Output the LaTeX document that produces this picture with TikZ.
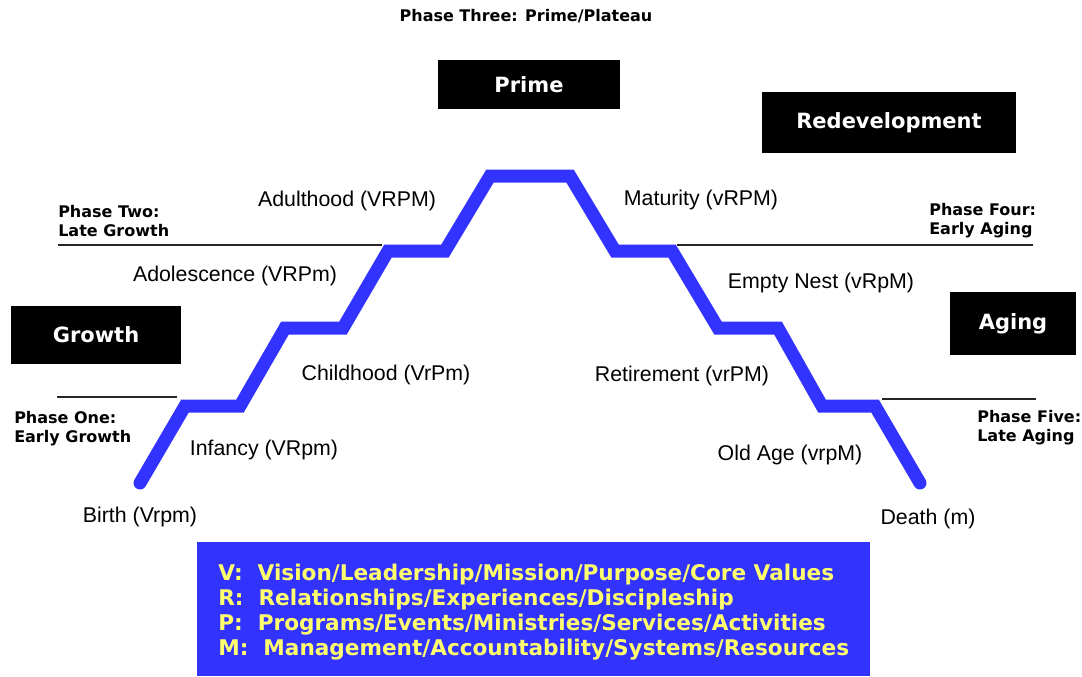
\documentclass[tikz,border=0pt]{standalone}
\usepackage{fontspec}
\setmainfont{Liberation Sans}
\newfontfamily\verdana{DejaVu Sans}
\definecolor{stairblue}{RGB}{51,51,255}
\definecolor{keyyellow}{RGB}{255,255,110}
\tikzset{
  stage/.style={inner sep=0pt, font=\fontsize{16}{19}\selectfont},
  phase/.style={inner sep=0pt, align=left, font=\verdana\bfseries\fontsize{12}{14.25}\selectfont},
  title/.style={fill=black, text=white, inner sep=0pt, font=\verdana\bfseries\fontsize{15.75}{18}\selectfont},
  divider/.style={line width=0.9pt, black!85}
}
\begin{document}
\begin{tikzpicture}[x=0.75pt, y=-0.75pt]
      \useasboundingbox (0,0) rectangle (1082,676);
      \draw
        (529,84.5) node[title, minimum width=136.5pt, minimum height=36.75pt] (prime){Prime}
        (889,122.5) node[title, minimum width=190.5pt, minimum height=45.75pt] (redev){Redevelopment}
        (96,335) node[title, minimum width=127.5pt, minimum height=43.5pt] (growth){Growth}
        (1013,323.5) node[title, minimum width=94.5pt, minimum height=47.25pt] (aging){Aging};
      \draw
        (526,16) node[phase] (p3){Phase Three: Prime/Plateau}
        (58,221) node[phase, anchor=west] (p2){Phase Two:\\Late Growth}
        (929,221) node[phase, anchor=west] (p4){Phase Four:\\Early Aging}
        (14,429) node[phase, anchor=west] (p1){Phase One:\\Early Growth}
        (977,428) node[phase, anchor=west] (p5){Phase Five:\\Late Aging};
      \draw
        (140,517) node[stage] (birth){Birth (Vrpm)}
        (264,450) node[stage] (infancy){Infancy (VRpm)}
        (386,375) node[stage] (child){Childhood (VrPm)}
        (235,276) node[stage] (adol){Adolescence (VRPm)}
        (347,201) node[stage] (adult){Adulthood (VRPM)}
        (701,200) node[stage] (mature){Maturity (vRPM)}
        (821,283) node[stage] (nest){Empty Nest (vRpM)}
        (682,376) node[stage] (retire){Retirement (vrPM)}
        (790,455) node[stage] (old){Old Age (vrpM)}
        (928,519) node[stage] (death){Death (m)};
      \begin{scope}[divider]
        \draw (57,397) -- (177,397);
        \draw (58,245) -- (382,245);
        \draw (677,245) -- (1033,245);
        \draw (882,399) -- (1036,399);
      \end{scope}
      \draw[stairblue, line width=9.75pt, line cap=round, line join=miter]
        (140,483) -- (185,406) -- (240,406) -- (285,328) -- (343,328)
        -- (388,251) -- (445,251) -- (490,176) -- (570,176) -- (615,251)
        -- (672,251) -- (718,328) -- (778,328) -- (822,406) -- (875,406)
        -- (920,483);
      \node[fill=stairblue, text=keyyellow, align=left, inner xsep=15.75pt, inner ysep=0pt,
        text width=473pt, minimum height=100.5pt,
        font=\verdana\bfseries\fontsize{16.2}{18.75}\selectfont] (key) at (533.5,609)
        {};
      \node[text=keyyellow, align=left, inner sep=0pt, anchor=west,
        font=\verdana\bfseries\fontsize{16.2}{18.75}\selectfont] (keytext) at (218,612.5)
        {V:\ \ Vision/Leadership/Mission/Purpose/Core Values\\
         R:\ \ Relationships/Experiences/Discipleship\\
         P:\ \ Programs/Events/Ministries/Services/Activities\\
         M:\ \ Management/Accountability/Systems/Resources};
    \end{tikzpicture}
\end{document}
